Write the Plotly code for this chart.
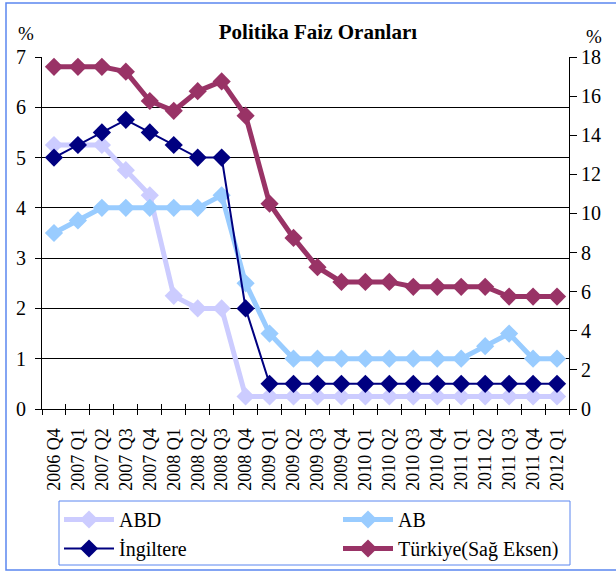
import plotly.graph_objects as go

categories = ["2006 Q4", "2007 Q1", "2007 Q2", "2007 Q3", "2007 Q4", "2008 Q1", "2008 Q2", "2008 Q3",
              "2008 Q4", "2009 Q1", "2009 Q2", "2009 Q3", "2009 Q4", "2010 Q1", "2010 Q2", "2010 Q3",
              "2010 Q4", "2011 Q1", "2011 Q2", "2011 Q3", "2011 Q4", "2012 Q1"]
abd = [5.25, 5.25, 5.25, 4.75, 4.25, 2.25, 2.0, 2.0, 0.25, 0.25, 0.25, 0.25, 0.25, 0.25, 0.25, 0.25,
       0.25, 0.25, 0.25, 0.25, 0.25, 0.25]
ab = [3.5, 3.75, 4.0, 4.0, 4.0, 4.0, 4.0, 4.25, 2.5, 1.5, 1.0, 1.0, 1.0, 1.0, 1.0, 1.0,
      1.0, 1.0, 1.25, 1.5, 1.0, 1.0]
ingiltere = [5.0, 5.25, 5.5, 5.75, 5.5, 5.25, 5.0, 5.0, 2.0, 0.5, 0.5, 0.5, 0.5, 0.5, 0.5, 0.5,
             0.5, 0.5, 0.5, 0.5, 0.5, 0.5]
turkiye = [17.5, 17.5, 17.5, 17.25, 15.75, 15.25, 16.25, 16.75, 15.0, 10.5, 8.75, 7.25, 6.5, 6.5, 6.5, 6.25,
           6.25, 6.25, 6.25, 5.75, 5.75, 5.75]
left_ticks = [0, 1, 2, 3, 4, 5, 6, 7]
right_ticks = [0, 2, 4, 6, 8, 10, 12, 14, 16, 18]

W, H = 616, 572
L, R, T, B = 42, 47, 57, 163
pw, ph = W - L - R, H - T - B

def px_x(x):
    return (x - L) / pw

def px_y(y):
    return (H - B - y) / ph

FONT = "Liberation Serif, Tinos, DejaVu Serif, serif"
BLUE = "#5b86f0"

fig = go.Figure()
fig.add_trace(go.Scatter(x=categories, y=abd, name="ABD", mode="lines+markers", legend="legend",
                         line=dict(color="#ccccff", width=5),
                         marker=dict(symbol="diamond", size=14, color="#ccccff")))
fig.add_trace(go.Scatter(x=categories, y=ab, name="AB", mode="lines+markers", legend="legend2",
                         line=dict(color="#99ccff", width=5),
                         marker=dict(symbol="diamond", size=14, color="#99ccff")))
fig.add_trace(go.Scatter(x=categories, y=ingiltere, name="İngiltere", mode="lines+markers",
                         legend="legend",
                         line=dict(color="#000080", width=2),
                         marker=dict(symbol="diamond", size=14, color="#000080")))
fig.add_trace(go.Scatter(x=categories, y=turkiye, name="Türkiye(Sağ Eksen)", mode="lines+markers",
                         xaxis="x2", yaxis="y2", legend="legend2",
                         line=dict(color="#993366", width=5),
                         marker=dict(symbol="diamond", size=14, color="#993366")))

legend_common = dict(orientation="v", yanchor="top", xanchor="left", bgcolor="rgba(0,0,0,0)",
                     borderwidth=0, itemwidth=50, traceorder="normal",
                     font=dict(family=FONT, size=20, color="black"))

fig.update_layout(
    width=W, height=H,
    margin=dict(l=L, r=R, t=T, b=B, autoexpand=False),
    paper_bgcolor="white", plot_bgcolor="white",
    font=dict(family=FONT, size=18, color="black"),
    showlegend=True,
    title=dict(text="<b>Politika Faiz Oranları</b>", x=px_x(314), xanchor="center",
               y=1 - 32 / H, yanchor="middle", font=dict(family=FONT, size=21, color="black")),
    xaxis=dict(type="category", range=[-0.5, 21.5], tickson="boundaries", ticks="outside",
               ticklen=5, tickcolor="black", tickangle=-90, showline=True, linecolor="black",
               linewidth=1, showgrid=False, zeroline=False, ticklabelstandoff=11,
               tickfont=dict(family=FONT, size=18)),
    xaxis2=dict(type="category", range=[-0.5, 21.5], tickson="boundaries", ticks="inside",
                ticklen=5, tickcolor="black", overlaying="x", anchor="y2", side="bottom",
                showline=False, showgrid=False, zeroline=False, showticklabels=False),
    yaxis=dict(range=[0, 7], tickvals=left_ticks, ticks="outside", ticklen=6, tickcolor="black",
               showline=True, linecolor="black", linewidth=1, showgrid=True, ticklabelstandoff=5,
               gridcolor="black", gridwidth=1, zeroline=False, tickfont=dict(family=FONT, size=20)),
    yaxis2=dict(range=[0, 18], tickvals=right_ticks, overlaying="y", side="right", anchor="x2",
                ticks="outside", ticklen=7, tickcolor="black", showline=True, linecolor="black",
                linewidth=1, showgrid=False, zeroline=False, tickfont=dict(family=FONT, size=20)),
    yaxis3=dict(range=[0, 18], tickvals=right_ticks, overlaying="y", side="right", anchor="x",
                ticks="inside", ticklen=7, tickcolor="black", showline=False, showgrid=False,
                zeroline=False, showticklabels=False),
    legend=dict(x=px_x(59), y=px_y(500), **legend_common),
    legend2=dict(x=px_x(338), y=px_y(500), **legend_common),
    annotations=[
        dict(text="%", xref="paper", yref="paper", x=px_x(26), y=px_y(33), xanchor="center",
             yanchor="middle", showarrow=False, font=dict(family=FONT, size=19)),
        dict(text="%", xref="paper", yref="paper", x=px_x(594), y=px_y(37), xanchor="center",
             yanchor="middle", showarrow=False, font=dict(family=FONT, size=19)),
    ],
    shapes=[
        dict(type="rect", xref="paper", yref="paper", x0=px_x(6), x1=px_x(622), y0=px_y(570),
             y1=px_y(3), line=dict(color=BLUE, width=1.5), fillcolor="rgba(0,0,0,0)",
             layer="below"),
        dict(type="rect", xref="paper", yref="paper", x0=px_x(59), x1=px_x(570), y0=px_y(565),
             y1=px_y(501), line=dict(color=BLUE, width=1), fillcolor="rgba(0,0,0,0)",
             layer="below"),
    ],
)

fig.write_html("out.html", config={"displayModeBar": False},
               post_script="document.body.style.margin='0';document.body.style.overflow='hidden';")
